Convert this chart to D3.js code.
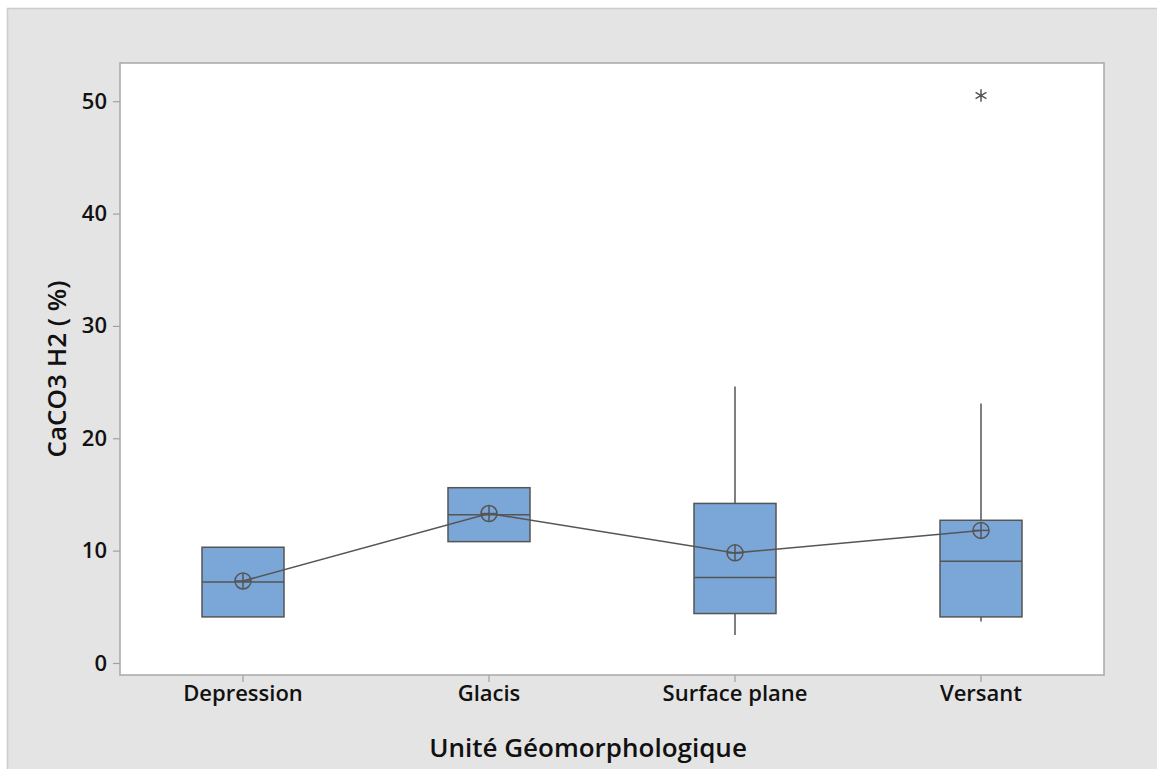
<!DOCTYPE html>
<html><head><meta charset="utf-8">
<script src="https://cdn.jsdelivr.net/npm/d3@7"></script>
<style>body{margin:0;background:#fff;} svg{display:block;}</style>
</head><body>
<svg id="chart" width="1157" height="769"></svg>
<script>
const categories = ["Depression", "Glacis", "Surface plane", "Versant"];
const q1 = [4.1, 10.8, 4.4, 4.1];
const medians = [7.2, 13.2, 7.6, 9.05];
const q3 = [10.3, 15.6, 14.2, 12.7];
const whiskerLow = [4.1, 10.8, 2.5, 3.7];
const whiskerHigh = [10.3, 15.6, 24.6, 23.1];
const means = [7.3, 13.3, 9.8, 11.8];
const outliers = [[], [], [], [50.5]];
const yTicks = [0, 10, 20, 30, 40, 50];
const yTitle = "CaCO3 H2 ( %)";
const xTitle = "Unité Géomorphologique";

const svg = d3.select("#chart");
const font = "'Open Sans', 'Noto Sans', sans-serif";
const ink = "#555555";

// outer panel
svg.append("rect").attr("x", 7.5).attr("y", 8.5).attr("width", 1160).attr("height", 770)
  .attr("fill", "#e4e4e4").attr("stroke", "#cccccc").attr("stroke-width", 1.5);

const L = 120, R = 1104, T = 63, B = 675;
const x = d3.scaleBand().domain(categories).range([L, R]).padding(0);
const y = d3.scaleLinear().domain([-1.07, 53.4]).range([B, T]);

svg.append("rect").attr("x", L).attr("y", T).attr("width", R - L).attr("height", B - T)
  .attr("fill", "#ffffff").attr("stroke", "#a8a8a8").attr("stroke-width", 1.5);

// y axis
const yAxis = d3.axisLeft(y).tickValues(yTicks).tickSize(7).tickPadding(6);
const gy = svg.append("g").attr("transform", `translate(${L},0)`).call(yAxis);
gy.select(".domain").remove();
gy.selectAll(".tick line").attr("stroke", "#a0a0a0").attr("stroke-width", 1.2);
gy.selectAll(".tick text").attr("font-family", font).attr("font-size", 22).attr("font-weight", 600).attr("fill", "#111");

// x axis
const xAxis = d3.axisBottom(x).tickSize(7).tickPadding(3);
const gx = svg.append("g").attr("transform", `translate(0,${B})`).call(xAxis);
gx.select(".domain").remove();
gx.selectAll(".tick line").attr("stroke", "#a0a0a0").attr("stroke-width", 1.2);
gx.selectAll(".tick text").attr("font-family", font).attr("font-size", 22).attr("font-weight", 600).attr("fill", "#111");

// titles
svg.append("text").attr("x", 588).attr("y", 757).attr("text-anchor", "middle")
  .attr("font-family", font).attr("font-size", 26).attr("font-weight", 600).attr("fill", "#111").text(xTitle);
svg.append("text").attr("transform", "translate(66,369) rotate(-90)").attr("text-anchor", "middle")
  .attr("font-family", font).attr("font-size", 26).attr("font-weight", 600).attr("fill", "#111").text(yTitle);

const bw = x.bandwidth() / 3;
const cx = c => x(c) + x.bandwidth() / 2;

categories.forEach((c, i) => {
  const g = svg.append("g");
  if (whiskerHigh[i] > q3[i])
    g.append("line").attr("x1", cx(c)).attr("x2", cx(c)).attr("y1", y(q3[i])).attr("y2", y(whiskerHigh[i]))
      .attr("stroke", ink).attr("stroke-width", 1.5);
  if (whiskerLow[i] < q1[i])
    g.append("line").attr("x1", cx(c)).attr("x2", cx(c)).attr("y1", y(q1[i])).attr("y2", y(whiskerLow[i]))
      .attr("stroke", ink).attr("stroke-width", 1.5);
  g.append("rect").attr("x", cx(c) - bw / 2).attr("y", y(q3[i])).attr("width", bw)
    .attr("height", y(q1[i]) - y(q3[i])).attr("fill", "#7ba7d8").attr("stroke", ink).attr("stroke-width", 1.5);
  g.append("line").attr("x1", cx(c) - bw / 2).attr("x2", cx(c) + bw / 2).attr("y1", y(medians[i])).attr("y2", y(medians[i]))
    .attr("stroke", ink).attr("stroke-width", 1.5);
  outliers[i].forEach(v => {
    g.append("path").attr("d", d3.symbol(d3.symbolAsterisk, 110)())
      .attr("transform", `translate(${cx(c)},${y(v)})`).attr("fill", "none").attr("stroke", ink).attr("stroke-width", 1.5);
  });
});

// mean line
const line = d3.line().x((d, i) => cx(categories[i])).y(d => y(d));
svg.append("path").attr("d", line(means)).attr("fill", "none").attr("stroke", ink).attr("stroke-width", 1.5);

// mean symbols
categories.forEach((c, i) => {
  const g = svg.append("g").attr("transform", `translate(${cx(c)},${y(means[i])})`);
  g.append("circle").attr("r", 8).attr("fill", "none").attr("stroke", ink).attr("stroke-width", 1.5);
  g.append("line").attr("x1", -8).attr("x2", 8).attr("stroke", ink).attr("stroke-width", 1.5);
  g.append("line").attr("y1", -8).attr("y2", 8).attr("stroke", ink).attr("stroke-width", 1.5);
});
</script>
</body></html>
